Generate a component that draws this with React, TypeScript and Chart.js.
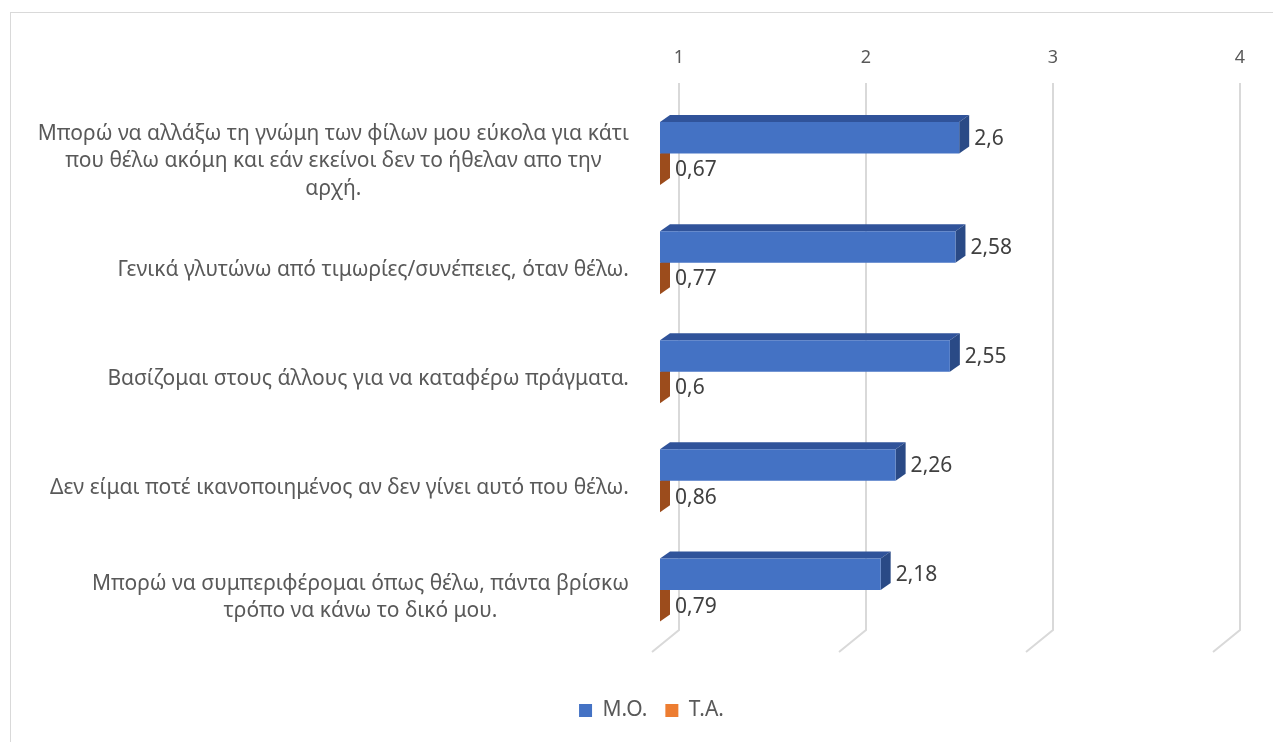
import React, { useEffect, useRef } from "react";
import { Chart, registerables } from "chart.js";

Chart.register(...registerables);

// ---------------- DATA ----------------
const categories: string[][] = [
  [
    "Μπορώ να αλλάξω τη γνώμη των φίλων μου εύκολα για κάτι",
    "που θέλω ακόμη και εάν εκείνοι δεν το ήθελαν απο την",
    "αρχή.",
  ],
  ["Γενικά γλυτώνω από τιμωρίες/συνέπειες, όταν θέλω."],
  ["Βασίζομαι στους άλλους για να καταφέρω πράγματα."],
  ["Δεν είμαι ποτέ ικανοποιημένος αν δεν γίνει αυτό που θέλω."],
  ["Μπορώ να συμπεριφέρομαι όπως θέλω, πάντα βρίσκω", "τρόπο να κάνω το δικό μου."],
];
const seriesNames = ["Μ.Ο.", "Τ.Α."];
const meanValues = [2.6, 2.58, 2.55, 2.26, 2.18];
const sdValues = [0.67, 0.77, 0.6, 0.86, 0.79];
const axisMin = 1;
const axisMax = 4;
const axisStep = 1;

// ---------------- STYLE ----------------
const FONT = "'Noto Sans', 'DejaVu Sans', sans-serif";
const frontColors = ["#4472C4", "#ED7D31"];
const topColors = ["#30539A", "#B55A1E"];
const sideColors = ["#2A4A86", "#9C4C1C"];
const DEPTH_X = 10;
const DEPTH_Y = 7;
const WALL_X = 19;

const fmt = (v: number) => String(v).replace(".", ",");

const excel3d = {
  id: "excel3d",
  beforeDatasetsDraw(chart: any) {
    const { ctx, chartArea: ca, scales } = chart;
    const xs = scales.x;
    ctx.save();
    // back-wall grid lines with floor edge
    ctx.strokeStyle = "#d9d9d9";
    ctx.lineWidth = 2;
    xs.ticks.forEach((t: any) => {
      const px = xs.getPixelForValue(t.value) + WALL_X;
      ctx.beginPath();
      ctx.moveTo(px, ca.top - 16);
      ctx.lineTo(px, ca.bottom - 14.5);
      ctx.lineTo(px - 27, ca.bottom + 7.5);
      ctx.stroke();
    });
    // top and side faces of the bars (drawn from the bar elements)
    for (let di = chart.data.datasets.length - 1; di >= 0; di--) {
      const meta = chart.getDatasetMeta(di);
      meta.data.forEach((el: any) => {
        const { x, y, base, height } = el.getProps(["x", "y", "base", "height"], true);
        const l = Math.max(Math.min(base, x), ca.left);
        const r = Math.max(Math.max(base, x), ca.left);
        const t = y - height / 2;
        const b = y + height / 2;
        if (r > l) {
          ctx.fillStyle = topColors[di];
          ctx.beginPath();
          ctx.moveTo(l, t);
          ctx.lineTo(r, t);
          ctx.lineTo(r + DEPTH_X, t - DEPTH_Y);
          ctx.lineTo(l + DEPTH_X, t - DEPTH_Y);
          ctx.closePath();
          ctx.fill();
        }
        ctx.fillStyle = sideColors[di];
        ctx.beginPath();
        ctx.moveTo(r, t);
        ctx.lineTo(r + DEPTH_X, t - DEPTH_Y);
        ctx.lineTo(r + DEPTH_X, b - DEPTH_Y);
        ctx.lineTo(r, b);
        ctx.closePath();
        ctx.fill();
      });
    }
    ctx.restore();
  },
  afterDatasetsDraw(chart: any) {
    const { ctx, chartArea: ca, scales } = chart;
    const ys = scales.y;
    ctx.save();
    // value labels
    ctx.font = `21px ${FONT}`;
    ctx.fillStyle = "#404040";
    ctx.textAlign = "left";
    ctx.textBaseline = "middle";
    chart.data.datasets.forEach((ds: any, di: number) => {
      const meta = chart.getDatasetMeta(di);
      meta.data.forEach((el: any, i: number) => {
        const { x, y, base } = el.getProps(["x", "y", "base"], true);
        const r = Math.max(Math.max(base, x), ca.left);
        ctx.fillText(fmt(ds.data[i]), r + DEPTH_X + 5, y + 1);
      });
    });
    // category labels: block right-aligned, lines centered within the block
    ctx.font = `21px ${FONT}`;
    ctx.fillStyle = "#595959";
    ctx.textAlign = "center";
    const lineH = 27.5;
    const rightEdge = ca.left - 31;
    (chart.data.labels as string[][]).forEach((lines, i) => {
      const py = ys.getPixelForValue(i) + 7.5;
      const w = Math.max(...lines.map((s) => ctx.measureText(s).width));
      const cx = rightEdge - w / 2;
      const y0 = py - ((lines.length - 1) * lineH) / 2;
      lines.forEach((s, k) => ctx.fillText(s, cx, y0 + k * lineH));
    });
    ctx.restore();
  },
};

export default function App() {
  const ref = useRef<HTMLCanvasElement>(null);

  useEffect(() => {
    if (!ref.current) return;
    const chart = new Chart(ref.current, {
      type: "bar",
      data: {
        labels: categories,
        datasets: [
          {
            label: seriesNames[0],
            data: meanValues,
            backgroundColor: frontColors[0],
            borderWidth: 0,
            clip: 0,
          } as any,
          {
            label: seriesNames[1],
            data: sdValues,
            backgroundColor: frontColors[1],
            borderWidth: 0,
            clip: 0,
          } as any,
        ],
      },
      options: {
        animation: false,
        responsive: false,
        indexAxis: "y",
        datasets: { bar: { categoryPercentage: 0.577, barPercentage: 1 } },
        layout: { padding: { left: 82, right: 52, top: 0, bottom: 11 } },
        scales: {
          x: {
            type: "linear",
            position: "top",
            min: axisMin,
            max: axisMax,
            ticks: {
              stepSize: axisStep,
              labelOffset: WALL_X,
              padding: 30,
              color: "#595959",
              font: { family: FONT, size: 18 },
            },
            grid: { display: false, drawTicks: false },
            border: { display: false },
            afterFit: (s: any) => {
              s.height = 99;
            },
          },
          x2: {
            type: "linear",
            position: "bottom",
            display: true,
            ticks: { display: false },
            grid: { display: false, drawTicks: false },
            border: { display: false },
            afterFit: (s: any) => {
              s.height = 37.5;
            },
          },
          y: {
            type: "category",
            ticks: { display: false },
            grid: { display: false, drawTicks: false },
            border: { display: false },
            afterFit: (s: any) => {
              s.width = 578;
            },
          },
        },
        plugins: {
          legend: {
            position: "bottom",
            labels: {
              boxWidth: 13,
              boxHeight: 13,
              padding: 18,
              color: "#595959",
              font: { family: FONT, size: 21 },
            },
          },
          tooltip: { enabled: false },
        },
      } as any,
      plugins: [excel3d],
    });
    return () => chart.destroy();
  }, []);

  return (
    <div
      style={{
        position: "fixed",
        left: 0,
        top: 0,
        width: 1273,
        height: 742,
        overflow: "hidden",
        background: "#ffffff",
      }}
    >
      <canvas ref={ref} width={1273} height={742} style={{ display: "block" }} />
      <div
        style={{
          position: "absolute",
          left: 10,
          top: 12,
          width: 1300,
          height: 800,
          border: "1px solid #d9d9d9",
          boxSizing: "border-box",
          pointerEvents: "none",
        }}
      />
    </div>
  );
}
